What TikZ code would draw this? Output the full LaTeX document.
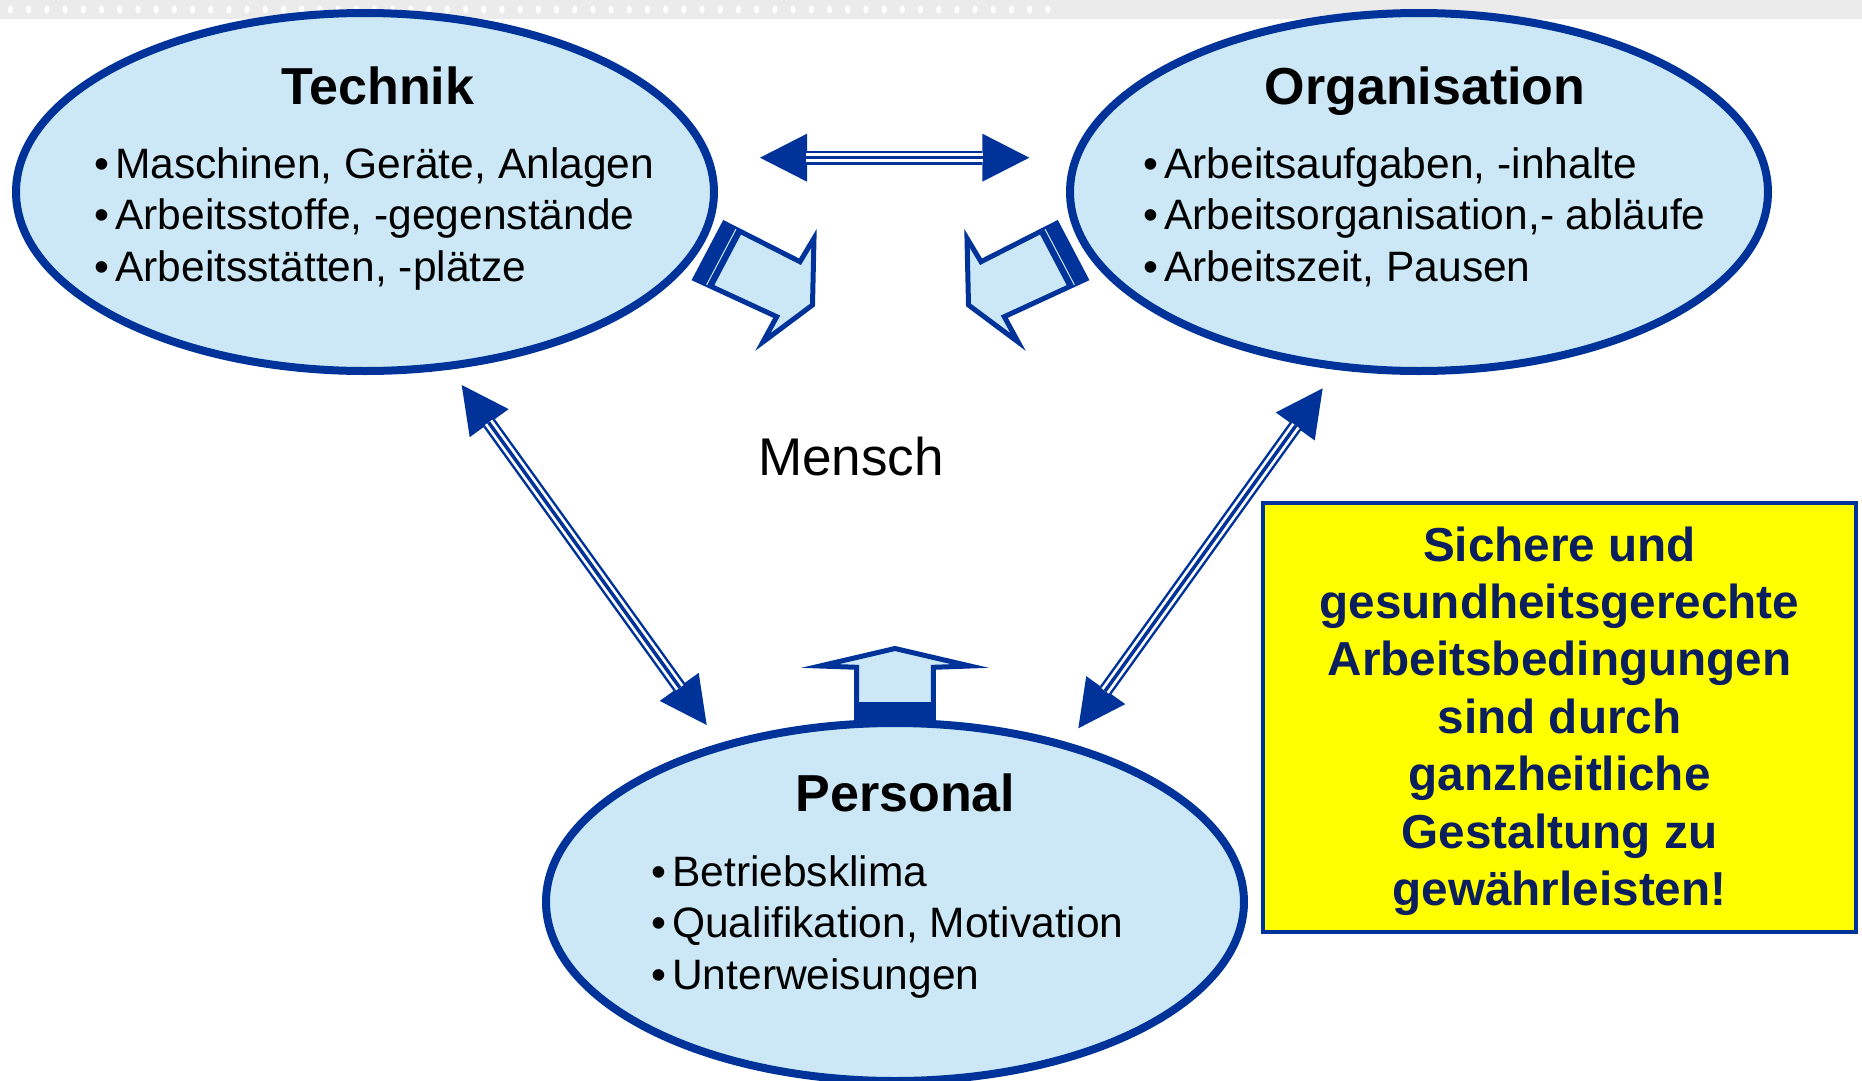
\documentclass[tikz,border=0pt]{standalone}
\usepackage{fontspec}
\setmainfont{Liberation Sans}
\usetikzlibrary{shapes.geometric,arrows.meta,calc}
\definecolor{dblue}{HTML}{003399}
\definecolor{lblue}{HTML}{CCE8F6}
\definecolor{navy}{HTML}{0B1F5E}
\definecolor{signal}{RGB}{255,255,0}

\begin{document}
\begin{tikzpicture}[x=0.1mm,y=-0.1mm,
  area/.style={ellipse,draw=dblue,fill=lblue,line width=0.8mm,minimum width=69.8mm,minimum height=35.8mm,inner sep=0pt},
  title/.style={anchor=base,font=\bfseries\fontsize{14.8}{17}\selectfont},
  item/.style={anchor=base west,inner sep=0pt,font=\fontsize{12.1}{14}\selectfont},
  link/.style={draw=dblue,line width=1.4mm,>={Triangle[length=4.7mm,width=4.8mm,line width=0pt]},<->},
  gap/.style={draw=white,line width=0.9mm,shorten <=4.6mm,shorten >=4.6mm},
  core/.style={draw=dblue,line width=0.35mm,shorten <=4.6mm,shorten >=4.6mm},
  block/.style={draw=dblue,fill=lblue,line width=0.5mm,line join=miter}]

\useasboundingbox (0,0) rectangle (1862,1081);
\fill[black!8] (0,0) rectangle (1862,19);
\foreach \i in {0,...,57}
  \fill[white] ({10.5+18.2*\i},9.5) ellipse (2.6 and 4);

\node[area] (technik) at (365,192) {};
\node[area] (orga) at (1419,192) {};
\node[area] (personal) at (895,902) {};

\node[title] (ttech) at (378,104.5) {Technik};
\node[title] (torga) at (1425,104.5) {Organisation};
\node[title] (tpers) at (905.5,811) {Personal};

\foreach \t [count=\i] in {{Maschinen, Geräte, Anlagen},{Arbeitsstoffe, -gegenstände},{Arbeitsstätten, -plätze}}
  \node[item] (tech\i) at (94,{126.7+51.6*\i}) {•\hspace{1.6pt}\t};
\foreach \t [count=\i] in {{Arbeitsaufgaben, -inhalte},{Arbeitsorganisation,- abläufe},{Arbeitszeit, Pausen}}
  \node[item] (orga\i) at (1143,{126.7+51.6*\i}) {•\hspace{1.6pt}\t};
\foreach \t [count=\i] in {Betriebsklima,{Qualifikation, Motivation},Unterweisungen}
  \node[item] (pers\i) at (651,{834.5+51.5*\i}) {•\hspace{1.6pt}\t};

\node[anchor=base,font=\fontsize{15.1}{18}\selectfont] (mensch) at (851,475) {Mensch};

\coordinate (h1) at (760,157.7);
\coordinate (h2) at (1029.3,157.7);
\coordinate (l1) at (461.7,385);
\coordinate (l2) at (706.7,725);
\coordinate (r1) at (1322.7,388.3);
\coordinate (r2) at (1078.3,728.3);
\foreach \a/\b in {h1/h2,l1/l2,r1/r2}{
  \draw[link] (\a) -- (\b);
  \draw[gap] (\a) -- (\b);
  \draw[core] (\a) -- (\b);
}

\foreach \s/\d in {1/0,-1/1781}{
  \begin{scope}[shift={(\d,0)},xscale=\s]
    \draw[block] (724.3,223.3) -- (800,261.7) -- (814,238.3) -- (812.5,305) -- (762.9,342) -- (776.7,316.7) -- (695,279) -- cycle;
    \fill[dblue] (724.3,223.3) -- (695,279) -- ++(17.8,9) -- ($(724.3,223.3)+(17.8,9)$) -- cycle;
    \draw[lblue,line width=0.1mm] ($(724.3,223.3)+(11.6,5.9)$) -- ($(695,279)+(11.6,5.9)$);
  \end{scope}
}
\draw[block] (856.7,717.3) -- (856.7,667.3) -- (820,666) -- (895,648.5) -- (970,666) -- (933.3,667.3) -- (933.3,717.3) -- cycle;
\fill[dblue] (856.7,702) rectangle (933.3,717.3);

\node[draw=dblue,fill=signal,line width=0.45mm,minimum width=59.3mm,minimum height=42.9mm] (goal) at (1559.5,717.5) {};
\node[text=navy,align=center,font=\bfseries\fontsize{13.57}{16.33}\selectfont] (goaltext) at (1559.5,721)
  {Sichere und\\gesundheitsgerechte\\Arbeitsbedingungen\\sind durch\\ganzheitliche\\Gestaltung zu\\gewährleisten!};
\end{tikzpicture}
\end{document}
